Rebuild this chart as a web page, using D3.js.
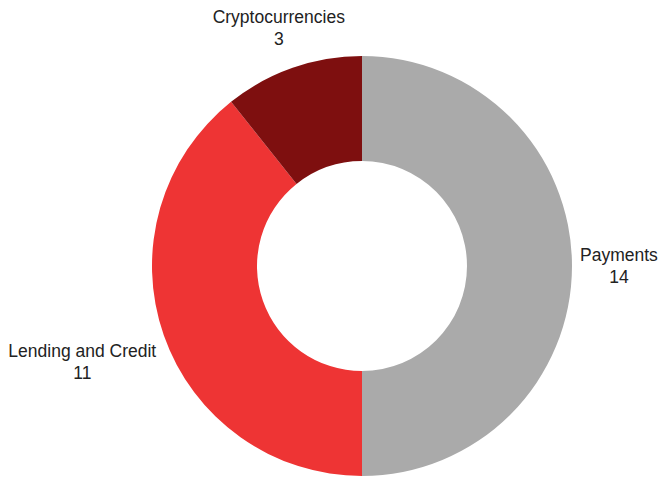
<!DOCTYPE html>
<html>
<head>
<meta charset="utf-8">
<script src="https://cdn.jsdelivr.net/npm/d3@7"></script>
<style>
  body { margin: 0; background: #fff; }
  text { font-family: "Liberation Sans", Arial, sans-serif; font-size: 17.5px; fill: #222; }
</style>
</head>
<body>
<div id="chart"></div>
<script>
const categories = ['Payments', 'Lending and Credit', 'Cryptocurrencies']
const values = [14, 11, 3]
const colors = ['#aaaaaa', '#ee3434', '#7e0f0f']

const width = 659
const height = 483
const cx = 362
const cy = 266
const outer = 210
const inner = 105

const data = categories.map((c, i) => ({ name: c, value: values[i] }))

const svg = d3.select('#chart').append('svg')
  .attr('width', width)
  .attr('height', height)

const g = svg.append('g').attr('transform', 'translate(' + cx + ',' + cy + ')')

const color = d3.scaleOrdinal().domain(categories).range(colors)

const pie = d3.pie()
  .sort(null)
  .value(d => d.value)

const arc = d3.arc()
  .innerRadius(inner)
  .outerRadius(outer)

const arcs = pie(data)

g.selectAll('path')
  .data(arcs)
  .enter().append('path')
    .attr('d', arc)
    .attr('fill', d => color(d.data.name))

// labels: name over value, both centred in the block;
// side blocks touch the rim, top/bottom blocks sit centred further out
g.selectAll('.label')
  .data(arcs)
  .enter().append('text')
    .attr('class', 'label')
    .attr('text-anchor', 'middle')
    .each(function(d) {
      const a = (d.startAngle + d.endAngle) / 2
      const s = Math.sin(a)
      const c = Math.cos(a)
      const side = Math.abs(s) > 0.6
      const t = d3.select(this)
      const l1 = t.append('tspan').text(d.data.name)
      const l2 = t.append('tspan').text(d.data.value)
      const w = Math.max(l1.node().getComputedTextLength(), l2.node().getComputedTextLength())
      let x, y
      if (side) {
        x = s * 218 + (s > 0 ? w / 2 : -w / 2)
        y = -c * 290
      } else {
        x = s * 252
        y = -c * 252
      }
      l1.attr('x', x).attr('y', y - 5)
      l2.attr('x', x).attr('y', y + 17)
    })
</script>
</body>
</html>
